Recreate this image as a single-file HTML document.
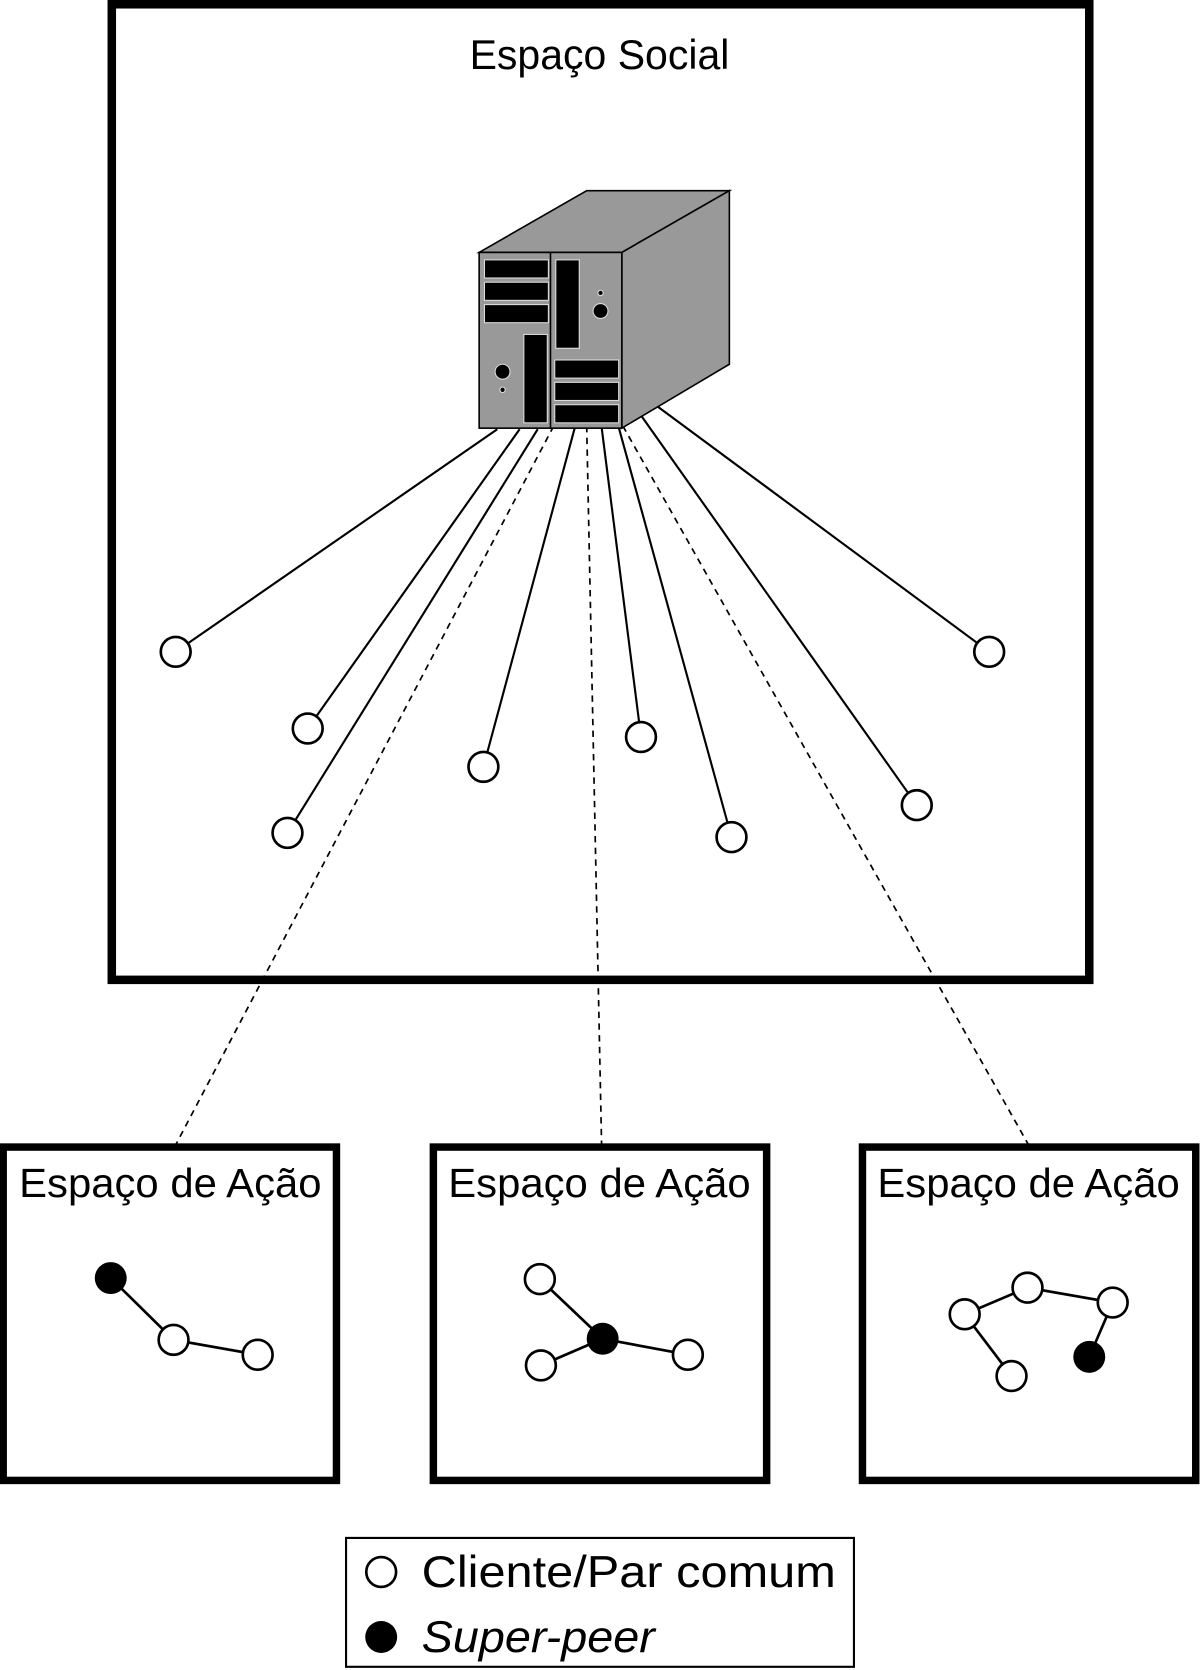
<!DOCTYPE html>
<html><head><meta charset="utf-8"><style>html,body{margin:0;padding:0;background:#fff}svg{display:block}</style></head><body>
<svg width="1200" height="1670" viewBox="0 0 1127 1568" preserveAspectRatio="none" xmlns="http://www.w3.org/2000/svg" font-family="'Liberation Sans', sans-serif">
<rect x="105" y="4" width="918" height="916" fill="none" stroke="#000" stroke-width="8"/>
<text x="441" y="65" font-size="39" textLength="244" lengthAdjust="spacingAndGlyphs">Espaço Social</text>
<g stroke="#000" stroke-width="2">
<line x1="467" y1="403" x2="165" y2="612"/>
<line x1="488" y1="403" x2="289" y2="684"/>
<line x1="505" y1="403" x2="270" y2="782"/>
<line x1="540" y1="401" x2="454" y2="720"/>
<line x1="565" y1="401" x2="602" y2="692"/>
<line x1="581" y1="401" x2="687" y2="786"/>
<line x1="602" y1="390" x2="861" y2="756"/>
<line x1="618" y1="382" x2="929" y2="612"/>
</g>
<g stroke="#000" stroke-width="1.6" stroke-dasharray="6,5">
<line x1="520" y1="400" x2="165" y2="1075"/>
<line x1="551" y1="400" x2="565" y2="1075"/>
<line x1="585" y1="400" x2="966" y2="1075"/>
</g>
<g fill="#999" stroke="#000" stroke-width="1.5">
<polygon points="450,237 551,179 685,179 584,237"/>
<polygon points="584,237 685,179 685,342 584,402"/>
<rect x="450" y="237" width="134" height="165"/>
<line x1="517" y1="237" x2="517" y2="402"/>
</g>
<g fill="#000" stroke="#ddd" stroke-width="1">
<rect x="455" y="244" width="60" height="17"/>
<rect x="455" y="265" width="60" height="17"/>
<rect x="455" y="286" width="60" height="17"/>
<rect x="492" y="314" width="22" height="83"/>
<rect x="522" y="244" width="22" height="83"/>
<rect x="521" y="338" width="60" height="17"/>
<rect x="521" y="359" width="60" height="17"/>
<rect x="521" y="380" width="60" height="17"/>
<circle cx="564" cy="292" r="7"/><circle cx="564" cy="275" r="2.5"/>
<circle cx="472" cy="349" r="7"/><circle cx="472" cy="366" r="2.5"/>
</g>
<g fill="#fff" stroke="#000" stroke-width="2.5">
<circle cx="165" cy="612" r="14"/><circle cx="289" cy="684" r="14"/><circle cx="270" cy="782" r="14"/><circle cx="454" cy="720" r="14"/><circle cx="602" cy="692" r="14"/><circle cx="687" cy="786" r="14"/><circle cx="861" cy="756" r="14"/><circle cx="929" cy="612" r="14"/>
</g>
<g fill="none" stroke="#000" stroke-width="7">
<rect x="3" y="1077" width="313" height="313"/>
<rect x="407" y="1077" width="313" height="313"/>
<rect x="810" y="1077" width="313" height="313"/>
</g>
<g font-size="38">
<text x="18" y="1124" textLength="284" lengthAdjust="spacingAndGlyphs">Espaço de Ação</text>
<text x="421" y="1124" textLength="284" lengthAdjust="spacingAndGlyphs">Espaço de Ação</text>
<text x="824" y="1124" textLength="284" lengthAdjust="spacingAndGlyphs">Espaço de Ação</text>
</g>
<g stroke="#000" stroke-width="2.5">
<polyline fill="none" points="104,1200 163,1258 242,1272"/>
<line x1="507" y1="1201" x2="566" y2="1257"/><line x1="508" y1="1282" x2="566" y2="1257"/><line x1="566" y1="1257" x2="646" y2="1272"/>
<polyline fill="none" points="950,1292 906,1234 965,1209 1045,1223 1023,1274"/>
</g>
<g fill="#fff" stroke="#000" stroke-width="2.5">
<circle cx="163" cy="1258" r="14"/><circle cx="242" cy="1272" r="14"/>
<circle cx="507" cy="1201" r="14"/><circle cx="508" cy="1282" r="14"/><circle cx="646" cy="1272" r="14"/>
<circle cx="906" cy="1234" r="14"/><circle cx="965" cy="1209" r="14"/><circle cx="1045" cy="1223" r="14"/><circle cx="950" cy="1292" r="14"/>
</g>
<g fill="#000"><circle cx="104" cy="1200" r="15"/><circle cx="566" cy="1257" r="15"/><circle cx="1023" cy="1274" r="15"/></g>
<rect x="325" y="1444" width="477" height="121" fill="none" stroke="#000" stroke-width="2"/>
<circle cx="358" cy="1476" r="14" fill="#fff" stroke="#000" stroke-width="2.5"/>
<circle cx="358" cy="1537" r="15" fill="#000"/>
<text x="396" y="1490" font-size="42" textLength="389" lengthAdjust="spacingAndGlyphs">Cliente/Par comum</text>
<text x="396" y="1551" font-size="42" font-style="italic" textLength="219" lengthAdjust="spacingAndGlyphs">Super-peer</text>
</svg>
</body></html>
